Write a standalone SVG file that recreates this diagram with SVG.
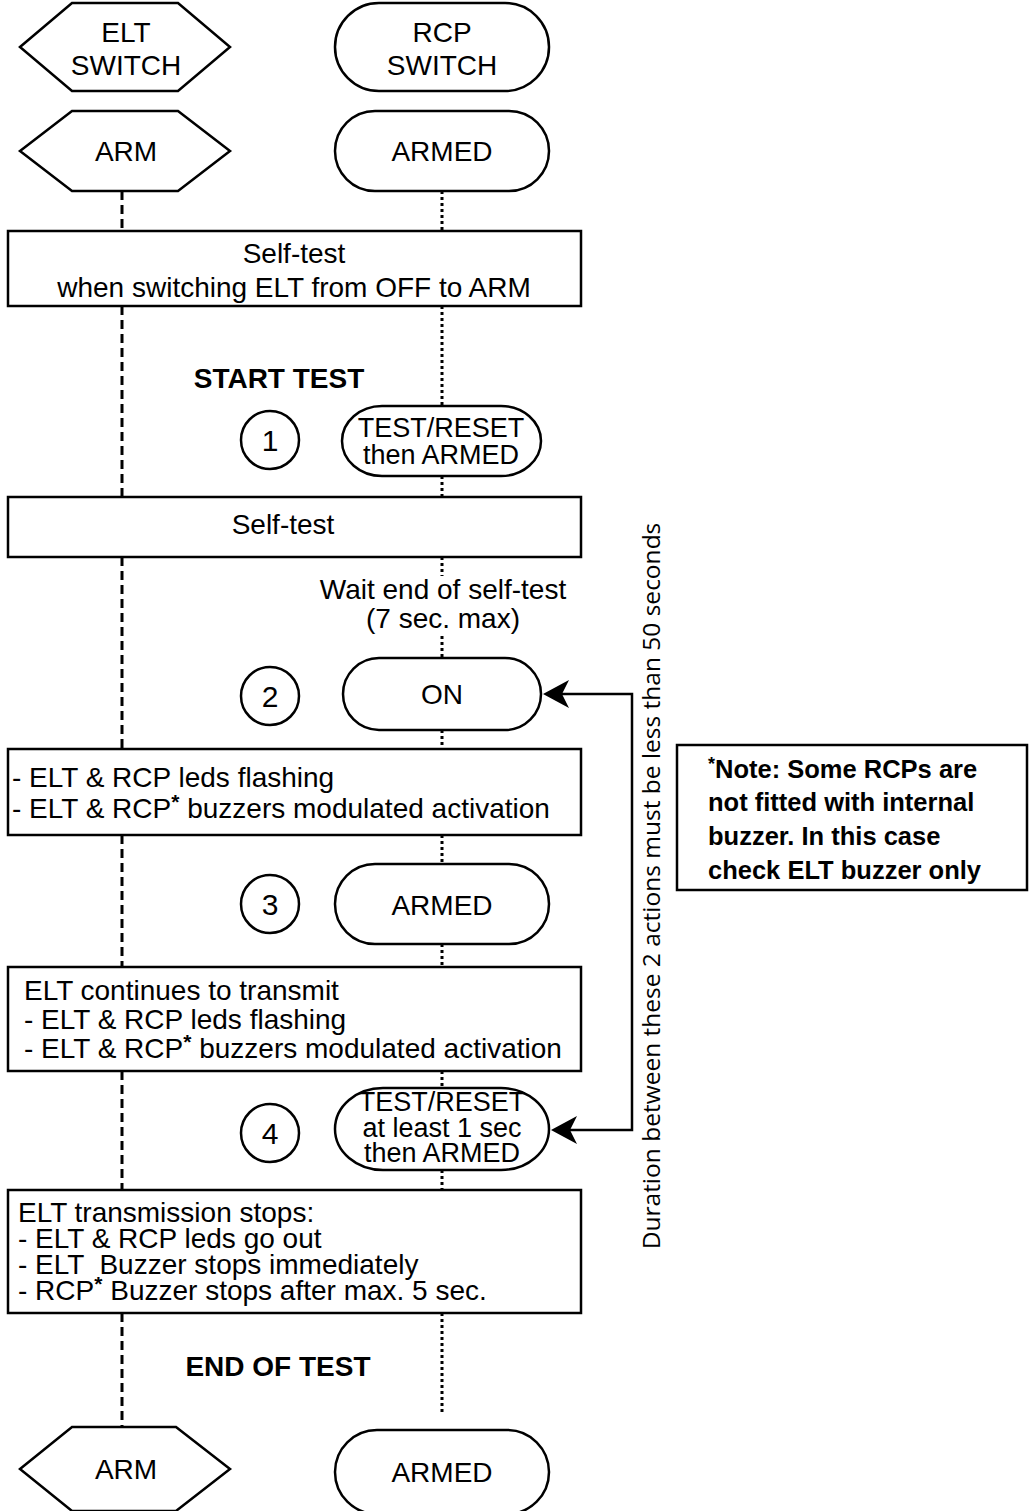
<svg xmlns="http://www.w3.org/2000/svg" width="1029" height="1511" viewBox="0 0 1029 1511">
<style>
.s{fill:#fff;stroke:#000;stroke-width:2.5}
.t{font-family:"Liberation Sans",Arial,sans-serif;font-size:28px;fill:#000}
.p{font-size:27px}
.n{font-size:30px}
.c{text-anchor:middle}
.b{font-weight:bold}
.nt{font-weight:bold;font-size:25.5px}
.l1{fill:none;stroke:#000;stroke-width:3;stroke-dasharray:9 5}
.l2{fill:none;stroke:#000;stroke-width:3;stroke-dasharray:3 3}
.cn{fill:none;stroke:#000;stroke-width:2.5}
.ah{fill:#000;stroke:none}
</style>
<g id="lifelines">
<path class="l1" d="M122,191V231M122,306V497M122,557V748M122,835V967M122,1071V1190M122,1313V1427"/>
<path class="l2" d="M442,191V231M442,306V406M442,476V497M442,557V576M442,636V658M442,730V748M442,835V864M442,944V967M442,1071V1088M442,1170V1190M442,1313V1413"/>
</g>
<g id="elt-switch"><polygon class="s" points="20,47 72,3 178,3 230,47 178,91 72,91"/><text class="t c" x="126" y="42">ELT</text><text class="t c" x="126" y="75">SWITCH</text></g>
<g id="rcp-switch"><rect class="s" x="335" y="3" width="214" height="88" rx="44"/><text class="t c" x="442" y="42">RCP</text><text class="t c" x="442" y="75">SWITCH</text></g>
<g id="arm-top"><polygon class="s" points="20,151 72,111 178,111 230,151 178,191 72,191"/><text class="t c" x="126" y="161">ARM</text></g>
<g id="armed-top"><rect class="s" x="335" y="111" width="214" height="80" rx="40"/><text class="t c" x="442" y="161">ARMED</text></g>
<g id="box-selftest1"><rect class="s" x="8" y="231" width="573" height="75"/><text class="t c" x="294" y="263">Self-test</text><text class="t c" x="294" y="297">when switching ELT from OFF to ARM</text></g>
<g id="start-test"><text class="t c b" x="279" y="388">START TEST</text></g>
<g id="step1"><circle class="s" cx="270" cy="440" r="29"/><text class="t c n" x="270" y="451">1</text></g>
<g id="testreset1"><rect class="s" x="342" y="406" width="199" height="70" rx="40" ry="35"/><text class="t c p" x="441" y="437">TEST/RESET</text><text class="t c p" x="441" y="464">then ARMED</text></g>
<g id="box-selftest2"><rect class="s" x="8" y="497" width="573" height="60"/><text class="t c" x="283" y="534">Self-test</text></g>
<g id="wait"><text class="t c" x="443" y="599">Wait end of self-test</text><text class="t c" x="443" y="628">(7 sec. max)</text></g>
<g id="step2"><circle class="s" cx="270" cy="696" r="29"/><text class="t c n" x="270" y="707">2</text></g>
<g id="on"><rect class="s" x="343" y="658" width="198" height="72" rx="36"/><text class="t c" x="442" y="704">ON</text></g>
<g id="box-flashing"><rect class="s" x="8" y="749" width="573" height="86"/><text class="t" x="12" y="787">- ELT &amp; RCP leds flashing</text><text class="t" x="12" y="818">- ELT &amp; RCP<tspan class="b" font-size="21" dy="-9">*</tspan><tspan dy="9"> buzzers modulated activation</tspan></text></g>
<g id="step3"><circle class="s" cx="270" cy="904" r="29"/><text class="t c n" x="270" y="915">3</text></g>
<g id="armed3"><rect class="s" x="335" y="864" width="214" height="80" rx="40"/><text class="t c" x="442" y="915">ARMED</text></g>
<g id="box-continues"><rect class="s" x="8" y="967" width="573" height="104"/><text class="t" x="24" y="1000">ELT continues to transmit</text><text class="t" x="24" y="1029">- ELT &amp; RCP leds flashing</text><text class="t" x="24" y="1058">- ELT &amp; RCP<tspan class="b" font-size="21" dy="-9">*</tspan><tspan dy="9"> buzzers modulated activation</tspan></text></g>
<g id="step4"><circle class="s" cx="270" cy="1133" r="29"/><text class="t c n" x="270" y="1144">4</text></g>
<g id="testreset2"><rect class="s" x="335" y="1088" width="214" height="82" rx="48" ry="41"/><text class="t c p" x="442" y="1111">TEST/RESET</text><text class="t c p" x="442" y="1137">at least 1 sec</text><text class="t c p" x="442" y="1162">then ARMED</text></g>
<g id="box-stops"><rect class="s" x="8" y="1190" width="573" height="123"/><text class="t" x="18" y="1222">ELT transmission stops:</text><text class="t" x="18" y="1248">- ELT &amp; RCP leds go out</text><text class="t" x="18" y="1274" xml:space="preserve">- ELT  Buzzer stops immediately</text><text class="t" x="18" y="1300">- RCP<tspan class="b" font-size="21" dy="-9">*</tspan><tspan dy="9"> Buzzer stops after max. 5 sec.</tspan></text></g>
<g id="end-test"><text class="t c b" x="278" y="1376">END OF TEST</text></g>
<g id="arm-bottom"><polygon class="s" points="20,1469 72,1427 176,1427 230,1469 176,1511 72,1511"/><text class="t c" x="126" y="1479">ARM</text></g>
<g id="armed-bottom"><rect class="s" x="335" y="1430" width="214" height="84" rx="42"/><text class="t c" x="442" y="1482">ARMED</text></g>
<g id="connectors"><path class="cn" d="M562,694H632V1130H570"/><polygon class="ah" points="543,694 569,680 562,694 569,708"/><polygon class="ah" points="551,1130 577,1116 570,1130 577,1144"/></g>
<g id="duration"><text transform="translate(660,886) rotate(-90)" text-anchor="middle" font-family="'Open Sans',sans-serif" font-size="24.5">Duration between these 2 actions must be less than 50 seconds</text></g>
<g id="note"><rect class="s" x="677" y="745" width="350" height="145"/><text class="t nt" x="708" y="778"><tspan font-size="18" dy="-8">*</tspan><tspan dy="8">Note: Some RCPs are</tspan></text><text class="t nt" x="708" y="811">not fitted with internal</text><text class="t nt" x="708" y="845">buzzer. In this case</text><text class="t nt" x="708" y="879">check ELT buzzer only</text></g>
</svg>
